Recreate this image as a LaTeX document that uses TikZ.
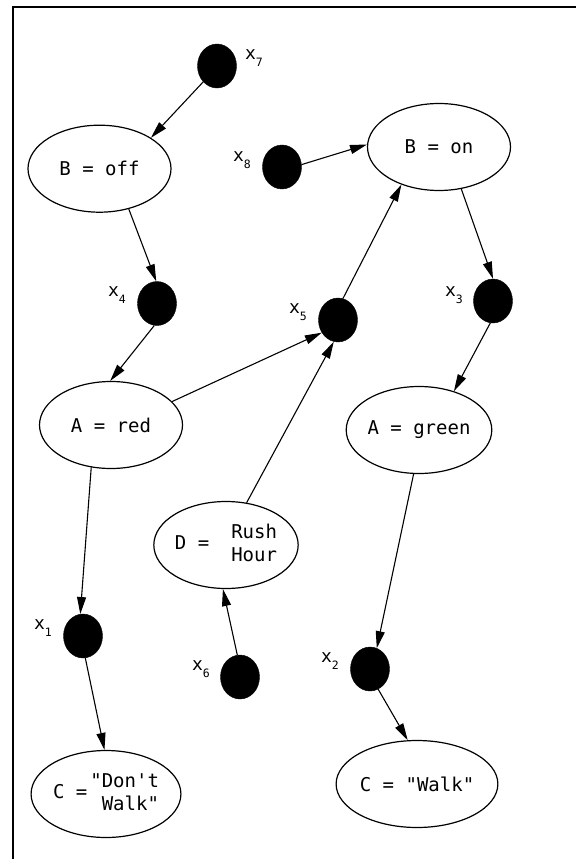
\documentclass[tikz,border=0pt]{standalone}
\usepackage{fontspec}
\setmonofont{DejaVu Sans Mono}
\usetikzlibrary{shapes.geometric,arrows.meta}
\newcommand{\xlab}[1]{{\fontsize{18}{18}\selectfont x}\raisebox{-7.5pt}{\fontsize{11.5}{11.5}\selectfont #1}}
\tikzset{
  state/.style={ellipse,draw,line width=1.2pt,minimum width=143pt,minimum height=87pt,inner sep=0pt,
    font=\ttfamily\fontsize{19}{23}\selectfont},
  dot/.style={ellipse,fill=black,draw=black,minimum width=39pt,minimum height=44pt,inner sep=0pt},
  lbl/.style={inner sep=0pt,font=\ttfamily},
  arr/.style={line width=1.1pt,-{Triangle[length=17pt,width=9pt]}},
  frame/.style={line width=2.6pt}
}
\begin{document}
\begin{tikzpicture}[x=1pt,y=-1pt]
\useasboundingbox (0,0) rectangle (576,859);
\fill[white] (0,0) rectangle (576,859);
\draw[frame] (576,7) -- (13,7) -- (13,859);

% state nodes
\node[state] (boff) at (99.5,168.7) {B = off};
\node[state] (bon) at (439,147) {B = on};
\node[state] (ared) at (111,425) {A = red};
\node[state] (agreen) at (419,430) {A = green};
\node[state] (d) at (226,545) {D =\hspace{22pt}\begin{tabular}[c]{@{}l@{}}Rush\\Hour\end{tabular}};
\node[state] (cdw) at (106,794) {C =\hspace{3pt}\begin{tabular}[c]{@{}r@{}}"Don't\\Walk"\end{tabular}};
\node[state] (cw) at (417,784) {C = "Walk"};

% dots
\node[dot] (x7) at (217,66) {};
\node[dot] (x8) at (282,167) {};
\node[dot] (x4) at (157,303.5) {};
\node[dot] (x3) at (493,301) {};
\node[dot] (x5) at (338,320) {};
\node[dot] (x1) at (83,636) {};
\node[dot] (x6) at (240,677) {};
\node[dot] (x2) at (370,669) {};

% labels
\node[lbl] (l7) at (254,58) {\xlab{7}};
\node[lbl] (l8) at (242,160) {\xlab{8}};
\node[lbl] (l4) at (117,295) {\xlab{4}};
\node[lbl] (l3) at (454,295) {\xlab{3}};
\node[lbl] (l5) at (298,312) {\xlab{5}};
\node[lbl] (l1) at (43,628) {\xlab{1}};
\node[lbl] (l6) at (201,669) {\xlab{6}};
\node[lbl] (l2) at (330,661) {\xlab{2}};

% connectors
\draw[arr] (x7.-131.5) -- (boff.31.6);
\draw[arr] (x8.7.8) -- (bon.178.4);
\draw[arr] (boff.-54) -- (x4.92.8);
\draw[arr] (bon.-62.5) -- (x3.90.8);
\draw[arr] (x5.77.7) -- (bon.-135.7);
\draw[arr] (x4.-97.7) -- (ared.91.3);
\draw[arr] (ared.21.5) -- (x5.-142.7);
\draw[arr] (d.64.6) -- (x5.-101);
\draw[arr] (x3.-97.7) -- (agreen.48.4);
\draw[arr] (ared.-115.9) -- (x1.97.5);
\draw[arr] (agreen.-97.2) -- (x2.72);
\draw[arr] (x6.97.3) -- (d.-94.1);
\draw[arr] (x1.-84.9) -- (cdw.92.6);
\draw[arr] (x2.-68.4) -- (cw.102.7);
\end{tikzpicture}
\end{document}
